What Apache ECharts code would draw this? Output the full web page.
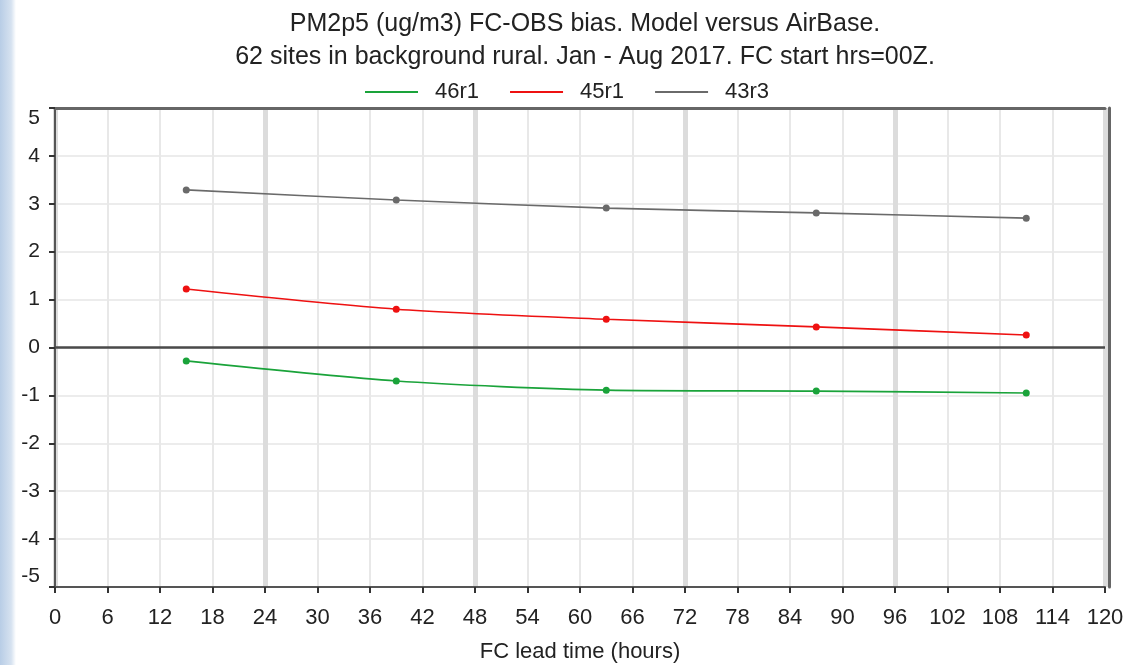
<!DOCTYPE html>
<html>
<head>
<meta charset="utf-8">
<script src="https://cdn.jsdelivr.net/npm/echarts@6/dist/echarts.min.js"></script>
<style>
  html, body { margin: 0; padding: 0; background: #fff; }
  #chart { width: 1129px; height: 665px; }
</style>
</head>
<body>
<div id="chart"></div>
<script>
const leadHours = [15, 39, 63, 87, 111]
const bias46r1 = [-0.28, -0.70, -0.89, -0.91, -0.95]
const bias45r1 = [1.22, 0.80, 0.59, 0.43, 0.26]
const bias43r3 = [3.29, 3.08, 2.91, 2.81, 2.70]
const seriesNames = ['46r1', '45r1', '43r3']
const seriesColors = ['#1aa33a', '#ee1111', '#6a6a6a']

const pairs = vals => leadHours.map((h, i) => [h, vals[i]])

const chart = echarts.init(document.getElementById('chart'))
const font = 'Liberation Sans, Arial, sans-serif'

const makeSeries = (name, vals, color) => ({
  name,
  type: 'line',
  data: pairs(vals),
  smooth: 0.25,
  symbol: 'circle',
  symbolSize: 7,
  itemStyle: { color },
  lineStyle: { color, width: 1.6 }
})

const series = [
  makeSeries(seriesNames[0], bias46r1, seriesColors[0]),
  makeSeries(seriesNames[1], bias45r1, seriesColors[1]),
  makeSeries(seriesNames[2], bias43r3, seriesColors[2])
]
// dark zero line
series[0].markLine = {
  silent: true,
  symbol: 'none',
  label: { show: false },
  lineStyle: { color: '#4a4a4a', width: 2.5, type: 'solid' },
  emphasis: { disabled: true },
  data: [{ yAxis: 0 }]
}

chart.setOption({
  animation: false,
  backgroundColor: '#fff',
  textStyle: { fontFamily: font },
  graphic: [{
    type: 'rect',
    left: 0, top: 0,
    shape: { width: 16, height: 665 },
    style: {
      fill: new echarts.graphic.LinearGradient(0, 0, 1, 0, [
        { offset: 0, color: '#b8cde6' },
        { offset: 0.7, color: '#d6e2f0' },
        { offset: 1, color: '#ffffff' }
      ])
    },
    z: -1
  }],
  title: {
    text: 'PM2p5 (ug/m3) FC-OBS bias. Model versus AirBase.\n62 sites in background rural. Jan - Aug 2017. FC start hrs=00Z.',
    left: 580,
    textAlign: 'center',
    top: 3,
    textStyle: { fontFamily: font, fontSize: 25, fontWeight: 'normal', color: '#222', lineHeight: 33 }
  },
  legend: {
    data: seriesNames,
    top: 76,
    left: 360,
    itemWidth: 53,
    itemHeight: 2,
    itemGap: 31,
    icon: 'rect',
    textStyle: { fontFamily: font, fontSize: 22, color: '#222', padding: [0, 0, 0, 12] }
  },
  grid: { left: 55, right: 24, top: 108, bottom: 78, outerBoundsMode: 'none' },
  xAxis: [
    {
      type: 'value',
      min: 0, max: 120, interval: 6,
      name: 'FC lead time (hours)',
      nameLocation: 'middle',
      nameGap: 54,
      nameTextStyle: { fontFamily: font, fontSize: 22, color: '#222' },
      axisLine: { show: true, onZero: false, lineStyle: { color: '#555', width: 2 } },
      axisTick: { show: true, length: 6, lineStyle: { color: '#333', width: 2 } },
      axisLabel: { fontFamily: font, fontSize: 22, color: '#222', margin: 20 },
      splitLine: { show: true, lineStyle: { color: '#e8e8e8', width: 2 } }
    },
    {
      type: 'value',
      position: 'top',
      min: 0, max: 120, interval: 24,
      axisLine: { show: true, onZero: false, lineStyle: { color: '#666', width: 3 } },
      axisTick: { show: false },
      axisLabel: { show: false },
      splitLine: { show: true, lineStyle: { color: '#dcdcdc', width: 5 } }
    }
  ],
  yAxis: [
    {
      type: 'value',
      min: -5, max: 5, interval: 1,
      axisLine: { show: true, onZero: false, lineStyle: { color: '#555', width: 2 } },
      axisTick: { show: true, length: 6, lineStyle: { color: '#333', width: 2 } },
      axisLabel: {
        fontFamily: font, fontSize: 21, color: '#222', margin: 15,
        verticalAlignMaxLabel: 'top', verticalAlignMinLabel: 'bottom'
      },
      splitLine: { show: true, lineStyle: { color: '#ececec', width: 2 } }
    },
    {
      type: 'value',
      position: 'right',
      offset: 4,
      min: -5, max: 5, interval: 1,
      axisLine: { show: true, onZero: false, lineStyle: { color: '#666', width: 3 } },
      axisTick: { show: false },
      axisLabel: { show: false },
      splitLine: { show: false }
    }
  ],
  series
})
</script>
</body>
</html>
